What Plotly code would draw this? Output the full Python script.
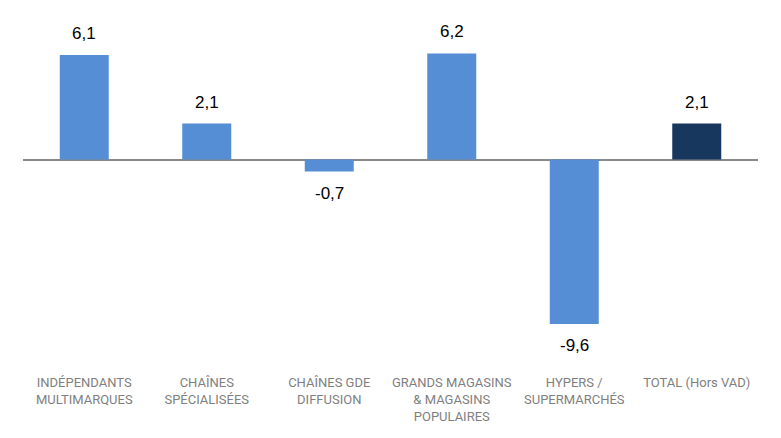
import plotly.graph_objects as go

categories = ["INDÉPENDANTS MULTIMARQUES", "CHAÎNES SPÉCIALISÉES", "CHAÎNES GDE DIFFUSION",
              "GRANDS MAGASINS & MAGASINS POPULAIRES", "HYPERS / SUPERMARCHÉS", "TOTAL (Hors VAD)"]
tick_labels = ["INDÉPENDANTS<br>MULTIMARQUES", "CHAÎNES<br>SPÉCIALISÉES", "CHAÎNES GDE<br>DIFFUSION",
               "GRANDS MAGASINS<br>& MAGASINS<br>POPULAIRES", "HYPERS /<br>SUPERMARCHÉS", "TOTAL (Hors VAD)"]
values = [6.1, 2.1, -0.7, 6.2, -9.6, 2.1]
value_labels = ["6,1", "2,1", "-0,7", "6,2", "-9,6", "2,1"]

colors = ["#558ED5"] * 5 + ["#17375E"]

fig = go.Figure()
fig.add_trace(go.Bar(x=categories, y=values, marker_color=colors, width=0.4,
                     marker_line_width=0, hoverinfo="skip"))

for c, v, t in zip(categories, values, value_labels):
    fig.add_annotation(x=c, y=v, text=t, showarrow=False,
                       yanchor="bottom" if v >= 0 else "top",
                       yshift=10 if v >= 0 else -10,
                       font=dict(family="Liberation Sans, Arial", size=17, color="#000000"))

fig.update_layout(
    width=765, height=430,
    margin=dict(l=15, r=15, t=12, b=73),
    paper_bgcolor="white", plot_bgcolor="white",
    showlegend=False,
    bargap=0.6,
    xaxis=dict(tickmode="array", tickvals=categories, ticktext=tick_labels, automargin=False,
               ticklabelstandoff=8,
               tickfont=dict(family="Liberation Sans Narrow, Roboto, Liberation Sans", size=13, color="#7F7F7F"),
               showline=False, showgrid=False, ticks=""),
    yaxis=dict(range=[-12.0, 8.15], showgrid=False, showticklabels=False, ticks="", automargin=False,
               zeroline=True, zerolinecolor="#898989", zerolinewidth=2, showline=False),
)

fig.write_html("out.html")
